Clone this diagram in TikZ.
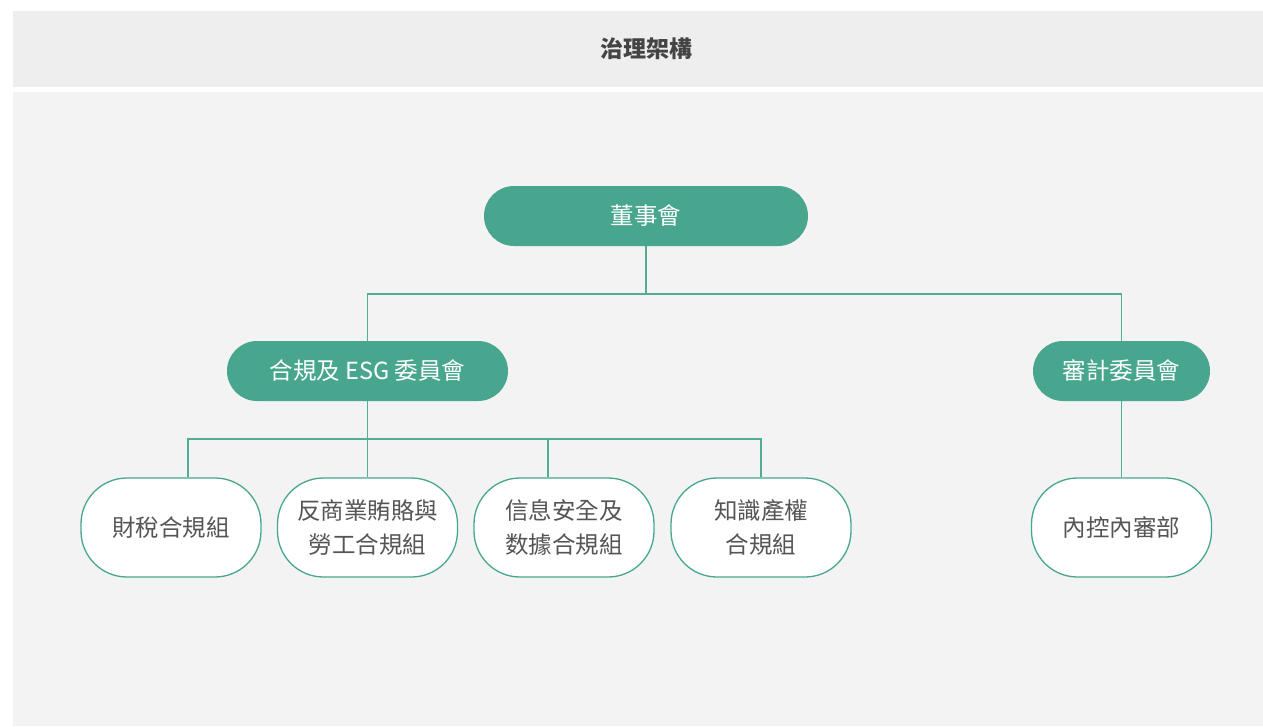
\documentclass[tikz,border=0pt]{standalone}
\usepackage{fontspec}
\setmainfont{Noto Sans CJK TC}
\usetikzlibrary{calc}
\definecolor{teal1}{HTML}{48A68E}
\definecolor{edgec}{HTML}{52AD94}
\definecolor{hdr}{HTML}{EEEEEE}
\definecolor{bodyc}{HTML}{F3F3F3}
\definecolor{txt}{HTML}{555555}
\definecolor{ttl}{HTML}{444444}
\begin{document}
\begin{tikzpicture}[x=1pt,y=-1pt,
 greenbox/.style={fill=teal1, draw=none, text=white, minimum height=60pt, rounded corners=30pt, font=\fontsize{23.5}{26}\selectfont, inner sep=0pt},
 leaf/.style={fill=white, draw=teal1, line width=1.3pt, minimum width=180pt, minimum height=99pt, rounded corners=46pt, text=txt, align=center, font=\fontsize{23.5}{34}\selectfont, inner sep=0pt},
 link/.style={draw=edgec, line width=1.4pt}]
\useasboundingbox (0,0) rectangle (1263,726);
\fill[white] (0,0) rectangle (1263,726);
\fill[hdr] (13,11) rectangle (1263,87);
\fill[bodyc] (13,92) rectangle (1263,726);
\node[text=ttl, font=\fontsize{23}{26}\selectfont\bfseries] (title) at (646,49) {治理架構};

\node[greenbox, minimum width=324pt] (board) at (646,216) {董事會};
\node[greenbox, minimum width=281pt] (comp) at (367.5,371) {合規及 ESG 委員會};
\node[greenbox, minimum width=177pt] (audit) at (1121.5,371) {審計委員會};

\node[leaf] (tax) at (171,527.5) {財稅合規組};
\node[leaf] (brib) at (367.5,527.5) {反商業賄賂與\\勞工合規組};
\node[leaf] (info) at (564,527.5) {信息安全及\\数據合規組};
\node[leaf] (ip) at (761,527.5) {知識產權\\合規組};
\node[leaf] (ctrl) at (1121.5,527.5) {內控內審部};

\coordinate (bus1) at (646,294);
\draw[link] (board.south) -- (bus1);
\draw[link] (comp.north) |- (bus1) -| (audit.north);

\coordinate (bus2) at (368,439);
\coordinate (t1) at ($(tax.north)+(17,0)$);
\coordinate (i1) at ($(info.north)+(-16,0)$);
\draw[link] (comp.south) -- (brib.north);
\draw[link] (t1) |- (bus2) -| (ip.north);
\draw[link] (i1) -- (i1 |- bus2);
\draw[link] (audit.south) -- (ctrl.north);
\end{tikzpicture}
\end{document}
